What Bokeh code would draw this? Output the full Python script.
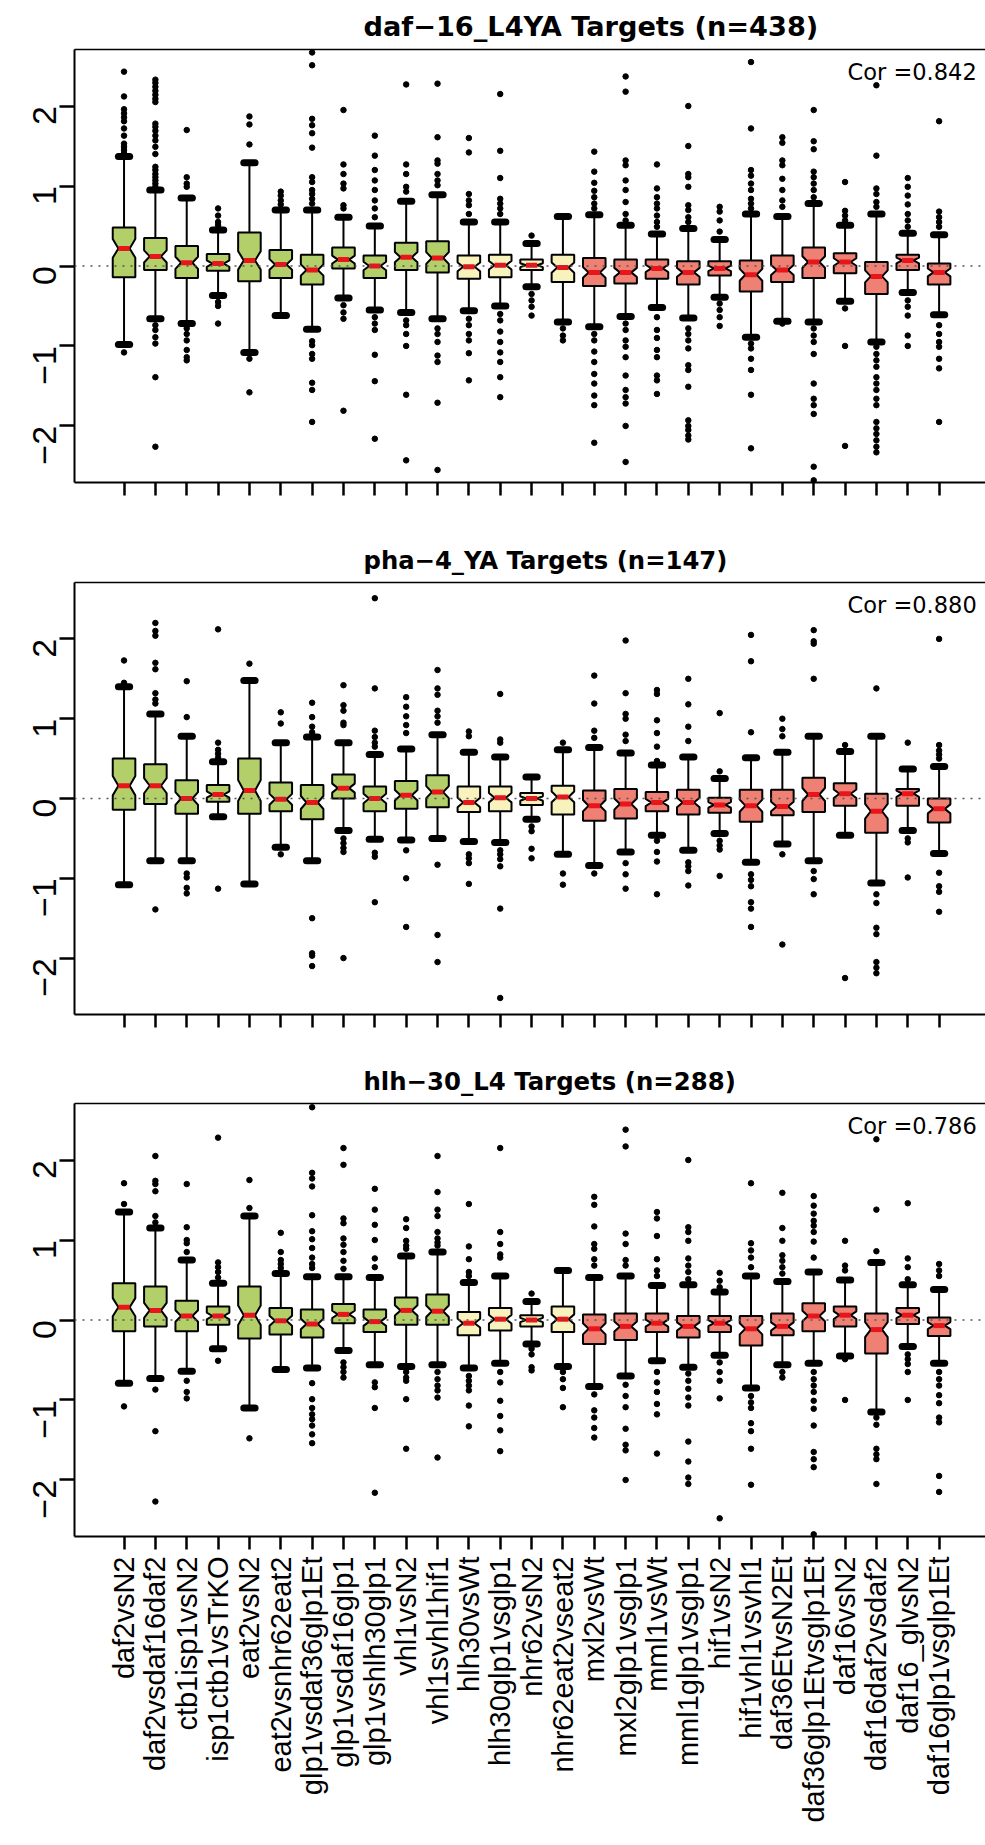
import math
from bokeh.plotting import figure
from bokeh.models import Range1d, FixedTicker, LinearAxis, Span, Label, Title
from bokeh.layouts import column
from bokeh.embed import file_html
from bokeh.resources import INLINE

# ---------------- data ----------------
labels = ["daf2vsN2", "daf2vsdaf16daf2", "ctb1isp1vsN2", "isp1ctb1vsTrKO", "eat2vsN2",
          "eat2vsnhr62eat2", "glp1vsdaf36glp1Et", "glp1vsdaf16glp1", "glp1vshlh30glp1",
          "vhl1vsN2", "vhl1svhl1hif1", "hlh30vsWt", "hlh30glp1vsglp1", "nhr62vsN2",
          "nhr62eat2vseat2", "mxl2vsWt", "mxl2glp1vsglp1", "mml1vsWt", "mml1glp1vsglp1",
          "hif1vsN2", "hif1vhl1vsvhl1", "daf36EtvsN2Et", "daf36glp1Etvsglp1Et", "daf16vsN2",
          "daf16daf2vsdaf2", "daf16_glvsN2", "daf16glp1vsglp1Et"]

groups = ["g", "g", "g", "g", "g", "g", "g", "g", "g", "g", "g",
          "y", "y", "y", "y",
          "r", "r", "r", "r", "r", "r", "r", "r", "r", "r", "r", "r"]

titles = ["daf\u221216_L4YA Targets (n=438)", "pha\u22124_YA Targets (n=147)",
          "hlh\u221230_L4 Targets (n=288)"]
cor_texts = ["Cor =0.842", "Cor =0.880", "Cor =0.786"]

# panel 1: daf-16_L4YA
p1_q3 = [0.48, 0.35, 0.25, 0.15, 0.42, 0.20, 0.14, 0.23, 0.13, 0.29, 0.31, 0.13, 0.14, 0.08,
         0.14, 0.10, 0.08, 0.08, 0.06, 0.06, 0.07, 0.13, 0.23, 0.16, 0.05, 0.14, 0.03]
p1_q1 = [-0.14, -0.05, -0.15, -0.06, -0.19, -0.15, -0.23, -0.03, -0.15, -0.05, -0.08, -0.16,
         -0.14, -0.05, -0.20, -0.25, -0.22, -0.16, -0.23, -0.12, -0.32, -0.20, -0.15, -0.09,
         -0.35, -0.05, -0.23]
p1_med = [0.22, 0.12, 0.04, 0.03, 0.07, 0.02, -0.05, 0.08, 0.00, 0.11, 0.10, -0.01, 0.01, 0.01,
          -0.02, -0.08, -0.08, -0.03, -0.08, -0.03, -0.11, -0.05, 0.05, 0.05, -0.13, 0.07, -0.08]
p1_whi = [1.37, 0.95, 0.85, 0.45, 1.29, 0.70, 0.70, 0.61, 0.50, 0.81, 0.89, 0.55, 0.55, 0.28,
          0.62, 0.64, 0.51, 0.40, 0.47, 0.33, 0.65, 0.62, 0.78, 0.51, 0.65, 0.41, 0.39]
p1_wlo = [-0.98, -0.66, -0.72, -0.37, -1.08, -0.62, -0.79, -0.40, -0.55, -0.58, -0.66, -0.56,
          -0.50, -0.26, -0.70, -0.76, -0.63, -0.52, -0.65, -0.39, -0.89, -0.69, -0.70, -0.44,
          -0.95, -0.33, -0.61]
p1_out = [
    [2.43, 2.12, 1.96, 1.91, 1.86, 1.81, 1.72, 1.63, 1.53, 1.49, 1.45, 1.41, -1.08],
    [2.33, 2.29, 2.24, 2.19, 2.14, 2.09, 2.05, 1.78, 1.74, 1.69, 1.63, 1.57, 1.49, 1.40, 1.24,
     1.20, 1.15, 1.11, 1.07, 1.03, 0.99, -0.74, -0.80, -0.89, -0.97, -1.39, -2.26],
    [1.70, 1.11, 1.03, 0.99, -0.78, -0.85, -0.93, -1.05, -1.14, -1.18],
    [0.72, 0.63, 0.55, 0.51, -0.45, -0.50, -0.72],
    [1.87, 1.77, 1.52, -1.16, -1.58],
    [0.93, 0.88, 0.82, 0.77],
    [2.67, 2.51, 1.84, 1.76, 1.66, 1.48, 1.11, 1.05, 0.95, 0.90, 0.84, 0.78, -0.94, -0.99, -1.10,
     -1.16, -1.46, -1.55, -1.95],
    [1.95, 1.27, 1.15, 1.03, 0.97, 0.76, 0.72, -0.49, -0.58, -0.66, -1.81],
    [1.63, 1.38, 1.20, 1.07, 0.95, 0.82, 0.72, 0.61, -0.64, -0.72, -0.80, -1.11, -1.44, -2.16],
    [2.27, 1.27, 1.15, 0.99, 0.93, -0.68, -0.74, -0.85, -1.00, -1.61, -2.43],
    [2.28, 1.61, 1.32, 1.28, 1.15, 1.07, 1.01, -0.78, -0.85, -0.95, -1.12, -1.20, -1.71, -2.55],
    [1.60, 1.42, 0.90, 0.82, 0.76, 0.65, -0.66, -0.74, -0.85, -0.93, -1.09, -1.43],
    [2.15, 1.44, 1.10, 0.84, 0.78, 0.72, 0.65, -0.60, -0.68, -0.82, -0.95, -1.08, -1.20, -1.39,
     -1.64],
    [0.38, -0.35, -0.43, -0.51, -0.62],
    [-0.78, -0.87, -0.93],
    [1.43, 1.18, 1.04, 0.94, 0.86, 0.78, 0.72, -0.85, -0.93, -1.07, -1.20, -1.35, -1.47, -1.62,
     -1.74, -2.21],
    [2.37, 2.18, 1.32, 1.26, 1.07, 0.95, 0.80, 0.65, 0.57, -0.72, -0.80, -0.93, -1.01, -1.14,
     -1.37, -1.55, -1.64, -1.72, -2.00, -2.45],
    [1.27, 0.97, 0.86, 0.78, 0.72, 0.63, 0.55, 0.49, -0.64, -0.80, -0.90, -1.05, -1.14, -1.37,
     -1.43, -1.60],
    [2.00, 1.50, 1.15, 1.11, 0.99, 0.76, 0.70, 0.61, 0.55, -0.78, -0.85, -0.93, -1.03, -1.24,
     -1.30, -1.51, -1.93, -2.00, -2.05, -2.12, -2.17],
    [0.74, 0.68, 0.57, 0.43, -0.47, -0.55, -0.64, -0.75],
    [2.55, 1.72, 1.20, 1.13, 1.03, 0.95, 0.84, 0.78, 0.72, -0.97, -1.03, -1.16, -1.30, -1.61,
     -2.28],
    [1.61, 1.54, 1.32, 1.26, 1.09, 0.95, 0.82, 0.74, -0.72],
    [1.95, 1.56, 1.46, 1.18, 1.11, 1.03, 0.95, 0.86, -0.78, -0.87, -0.95, -1.10, -1.47, -1.66,
     -1.74, -1.85, -2.51, -2.68],
    [1.05, 0.69, 0.63, 0.57, -0.53, -1.00, -2.25],
    [2.26, 1.38, 0.97, 0.90, 0.80, 0.74, -1.01, -1.10, -1.18, -1.26, -1.39, -1.47, -1.55, -1.66,
     -1.74, -1.95, -2.03, -2.10, -2.18, -2.26, -2.33],
    [1.10, 0.99, 0.88, 0.77, 0.65, 0.57, 0.49, -0.43, -0.51, -0.62, -0.87, -1.00],
    [1.81, 0.68, 0.61, 0.55, 0.49, -0.74, -0.85, -0.95, -1.01, -1.16, -1.28, -1.95],
]

# panel 2: pha-4_YA
p2_q3 = [0.50, 0.43, 0.23, 0.17, 0.50, 0.20, 0.17, 0.30, 0.15, 0.22, 0.29, 0.15, 0.15, 0.07,
         0.16, 0.10, 0.12, 0.08, 0.11, 0.01, 0.11, 0.11, 0.26, 0.19, 0.06, 0.12, 0.00]
p2_q1 = [-0.14, -0.07, -0.19, -0.04, -0.19, -0.16, -0.26, 0.00, -0.16, -0.13, -0.11, -0.17,
         -0.16, -0.08, -0.20, -0.28, -0.25, -0.16, -0.20, -0.18, -0.29, -0.21, -0.17, -0.09,
         -0.43, -0.09, -0.30]
p2_med = [0.16, 0.16, 0.00, 0.05, 0.10, -0.01, -0.05, 0.13, 0.00, 0.04, 0.08, -0.05, 0.01, 0.00,
          0.02, -0.09, -0.07, -0.05, -0.05, -0.08, -0.09, -0.10, 0.05, 0.06, -0.16, 0.06, -0.13]
p2_whi = [1.40, 1.06, 0.78, 0.46, 1.48, 0.70, 0.77, 0.70, 0.55, 0.62, 0.80, 0.58, 0.52, 0.27,
          0.61, 0.64, 0.57, 0.42, 0.52, 0.25, 0.51, 0.58, 0.78, 0.59, 0.78, 0.37, 0.40]
p2_wlo = [-1.08, -0.78, -0.78, -0.23, -1.07, -0.61, -0.78, -0.40, -0.51, -0.52, -0.50, -0.54,
          -0.55, -0.26, -0.70, -0.84, -0.67, -0.46, -0.65, -0.44, -0.80, -0.57, -0.78, -0.46,
          -1.06, -0.40, -0.69]
p2_out = [
    [1.73, 1.45],
    [2.20, 2.10, 2.04, 1.70, 1.62, 1.32, 1.24, 1.19, -1.39],
    [1.47, 1.02, -0.94, -0.99, -1.12, -1.19],
    [2.12, 0.70, 0.61, 0.56, 0.51, -1.13],
    [1.69],
    [1.08, 0.94, -0.70],
    [1.20, 1.02, 0.90, 0.83, -1.50, -1.94, -1.97, -2.10],
    [1.42, 1.17, 1.10, 0.95, 0.92, -0.50, -0.56, -0.62, -0.67, -2.00],
    [2.51, 1.38, 0.85, 0.77, 0.70, 0.65, -0.68, -0.73, -1.30],
    [1.27, 1.15, 1.03, 0.92, 0.82, -0.65, -1.00, -1.61],
    [1.61, 1.38, 1.30, 1.10, 1.03, 0.95, -0.83, -1.71, -2.05],
    [0.84, 0.78, -0.70, -0.75, -0.81, -1.07],
    [1.31, 0.74, 0.70, -0.65, -0.70, -0.76, -0.85, -1.38, -2.50],
    [-0.35, -0.41, -0.63, -0.75],
    [0.70, -0.94, -1.08],
    [1.54, 1.19, 0.85, 0.76, -0.94],
    [1.98, 1.32, 1.06, 1.00, 0.80, 0.72, -0.81, -0.95, -1.13],
    [1.36, 1.31, 0.98, 0.82, 0.65, 0.47, -0.53, -0.67, -0.79, -1.20],
    [1.50, 1.18, 0.90, 0.72, -0.80, -0.85, -0.91, -1.09],
    [1.07, 0.34, -0.53, -0.59, -0.64, -0.97],
    [2.05, 1.72, 0.83, -0.95, -1.02, -1.10, -1.30, -1.38, -1.61],
    [1.00, 0.87, 0.78, -0.70, -1.83],
    [2.11, 1.97, 1.94, 1.50, -0.91, -1.01, -1.20],
    [0.67, -2.25],
    [1.38, -1.20, -1.31, -1.62, -1.70, -2.05, -2.12, -2.19],
    [0.70, -0.50, -0.55, -0.99],
    [2.00, 0.67, 0.60, 0.55, 0.50, -0.93, -1.10, -1.17, -1.42],
]

# panel 3: hlh-30_L4
p3_q3 = [0.46, 0.42, 0.24, 0.17, 0.42, 0.15, 0.13, 0.20, 0.13, 0.28, 0.32, 0.10, 0.15, 0.06,
         0.17, 0.07, 0.08, 0.08, 0.05, 0.05, 0.05, 0.08, 0.21, 0.17, 0.08, 0.15, 0.03]
p3_q1 = [-0.14, -0.08, -0.14, -0.06, -0.23, -0.18, -0.22, -0.04, -0.15, -0.06, -0.06, -0.19,
         -0.13, -0.08, -0.15, -0.30, -0.25, -0.15, -0.22, -0.15, -0.32, -0.19, -0.14, -0.08,
         -0.42, -0.05, -0.20]
p3_med = [0.16, 0.12, 0.05, 0.05, 0.06, -0.01, -0.05, 0.07, -0.02, 0.12, 0.11, -0.04, 0.01, 0.00,
          0.01, -0.11, -0.08, -0.04, -0.08, -0.04, -0.11, -0.08, 0.05, 0.06, -0.12, 0.06, -0.07]
p3_whi = [1.35, 1.15, 0.75, 0.46, 1.30, 0.58, 0.54, 0.54, 0.53, 0.80, 0.85, 0.47, 0.55, 0.23,
          0.62, 0.53, 0.55, 0.43, 0.44, 0.35, 0.55, 0.48, 0.60, 0.50, 0.72, 0.44, 0.38]
p3_wlo = [-0.79, -0.73, -0.64, -0.36, -1.10, -0.62, -0.60, -0.38, -0.56, -0.58, -0.56, -0.60,
          -0.54, -0.30, -0.58, -0.83, -0.70, -0.51, -0.59, -0.44, -0.85, -0.56, -0.54, -0.45,
          -1.15, -0.33, -0.54]
p3_out = [
    [1.71, 1.45, -1.08],
    [2.05, 1.74, 1.70, 1.61, 1.30, 1.22, -0.87, -1.39, -2.27],
    [1.70, 1.16, 1.00, 0.96, 0.85, -0.76, -0.90, -0.98],
    [2.28, 0.72, 0.66, 0.60, 0.53, -0.51],
    [1.75, 1.40, -1.48],
    [1.09, 0.85, 0.75, 0.70, 0.65],
    [2.66, 1.84, 1.77, 1.67, 1.31, 1.11, 1.01, 0.90, 0.78, 0.70, 0.65, -0.79, -0.99, -1.10,
     -1.18, -1.24, -1.32, -1.43, -1.54],
    [2.15, 1.94, 1.27, 1.21, 1.02, 0.94, 0.85, 0.74, 0.64, -0.53, -0.59, -0.65, -0.72],
    [1.64, 1.38, 1.19, 1.00, 0.77, 0.66, -0.78, -0.84, -1.10, -2.16],
    [1.26, 1.15, 0.99, 0.93, 0.89, -0.65, -0.72, -0.76, -0.99, -1.61],
    [2.05, 1.60, 1.38, 1.30, 1.10, 1.02, 0.97, 0.93, -0.65, -0.74, -0.82, -0.88, -0.97, -1.72],
    [1.45, 0.92, 0.76, 0.60, 0.55, -0.70, -0.76, -0.82, -0.88, -1.07, -1.33],
    [2.15, 1.10, 0.95, 0.82, 0.78, -0.65, -0.78, -1.01, -1.20, -1.38, -1.64],
    [0.33, -0.36, -0.43, -0.59, -0.63],
    [-0.65, -0.74, -0.85, -1.09],
    [1.54, 1.44, 1.17, 0.95, 0.89, 0.76, 0.68, -0.93, -1.13, -1.22, -1.35, -1.47],
    [2.38, 2.17, 1.08, 0.95, 0.75, 0.68, -0.81, -0.95, -1.09, -1.36, -1.56, -1.63, -2.00],
    [1.35, 1.27, 1.05, 0.76, 0.62, 0.55, -0.65, -0.78, -0.90, -1.05, -1.18, -1.67],
    [2.00, 1.16, 1.10, 0.99, 0.77, 0.68, 0.60, 0.51, -0.67, -0.76, -0.86, -0.97, -1.07, -1.52,
     -1.77, -1.97, -2.05],
    [0.59, 0.49, 0.41, -0.53, -0.65, -0.76, -0.98, -2.48],
    [1.71, 0.96, 0.87, 0.78, 0.66, -0.95, -1.03, -1.10, -1.29, -1.39, -1.61, -2.06],
    [1.59, 1.15, 0.99, 0.81, 0.74, 0.66, 0.58, -0.65, -0.72],
    [1.55, 1.43, 1.33, 1.24, 1.18, 1.10, 0.98, 0.78, -0.65, -0.74, -0.82, -0.90, -1.01, -1.11,
     -1.32, -1.65, -1.74, -1.84, -2.68],
    [0.99, 0.68, 0.62, -0.49, -1.00],
    [2.26, 1.38, 0.86, -1.22, -1.31, -1.61, -1.68, -1.74, -2.05],
    [1.46, 0.77, 0.66, 0.51, -0.43, -0.49, -0.55, -0.65, -1.00],
    [0.70, 0.62, 0.55, -0.65, -0.74, -0.82, -0.94, -1.04, -1.22, -1.28, -1.95, -2.15],
]

# ---------------- style ----------------
FILL = {"g": "#b3cf6a", "y": "#f8f2bc", "r": "#ef8074"}
MEDIAN_COLOR = "#e8161b"
BOX_HALF = 0.36
NOTCH_N = 70
STAPLE_HALF = 0.18
X_RANGE = (-0.58, 28.48)
Y_RANGE = (-2.707, 2.707)
COR_POS = (28.2, 2.42)
TITLE_SIZES = ["27.2px", "24.3px", "24.4px"]
FIG_H = [533, 521, 791]
BORDER_TOP = [49, 49, 49]
BORDER_BOTTOM = [51, 40, 309]


def make_panel(k, q1, med, q3, wlo, whi, outs, show_labels):
    p = figure(width=985, height=FIG_H[k], x_range=Range1d(*X_RANGE), y_range=Range1d(*Y_RANGE),
               output_backend="svg", toolbar_location=None,
               min_border_left=74, min_border_right=0,
               min_border_top=BORDER_TOP[k], min_border_bottom=BORDER_BOTTOM[k])
    p.outline_line_color = None
    p.grid.visible = False
    p.background_fill_color = "white"
    p.border_fill_color = "white"

    pos = list(range(1, len(labels) + 1))
    fills = [FILL[g] for g in groups]

    # whiskers
    p.segment(x0=pos, y0=q3, x1=pos, y1=whi, line_color="black", line_width=2)
    p.segment(x0=pos, y0=q1, x1=pos, y1=wlo, line_color="black", line_width=2)
    # staples
    sx0 = [x - STAPLE_HALF for x in pos]
    sx1 = [x + STAPLE_HALF for x in pos]
    p.segment(x0=sx0, y0=whi, x1=sx1, y1=whi, line_color="black", line_width=7, line_cap="round")
    p.segment(x0=sx0, y0=wlo, x1=sx1, y1=wlo, line_color="black", line_width=7, line_cap="round")

    # notched boxes
    xs, ys = [], []
    for i, x in enumerate(pos):
        n = 1.58 * (q3[i] - q1[i]) / math.sqrt(NOTCH_N)
        w = BOX_HALF
        xs.append([x - w, x + w, x + w, x + w / 2, x + w, x + w, x - w, x - w, x - w / 2, x - w])
        ys.append([q1[i], q1[i], med[i] - n, med[i], med[i] + n, q3[i], q3[i], med[i] + n, med[i],
                   med[i] - n])
    p.patches(xs, ys, fill_color=fills, line_color="black", line_width=2)

    # medians
    p.segment(x0=[x - BOX_HALF / 2 for x in pos], y0=med, x1=[x + BOX_HALF / 2 for x in pos],
              y1=med, line_color=MEDIAN_COLOR, line_width=5)

    # outliers
    ox, oy = [], []
    for i, vals in enumerate(outs):
        for v in vals:
            ox.append(pos[i])
            oy.append(v)
    p.scatter(ox, oy, size=5.5, fill_color="black", line_color="black")

    p.add_layout(Span(location=0, dimension="width", line_color="#555555", line_width=1.5,
                      line_dash="2 6"))

    # axes
    xa = p.xaxis[0]
    xa.ticker = FixedTicker(ticks=pos)
    xa.major_tick_out = 13
    xa.major_tick_in = 0
    xa.minor_tick_line_color = None
    xa.axis_line_width = 2
    xa.major_tick_line_width = 2.5
    if show_labels:
        xa.major_label_overrides = {x: labels[i] for i, x in enumerate(pos)}
        xa.major_label_orientation = math.pi / 2
        xa.major_label_text_font = "Liberation Sans"
        xa.major_label_text_font_size = "29px"
        xa.major_label_text_color = "black"
        xa.major_label_standoff = 7
    else:
        xa.major_label_overrides = {x: "" for x in pos}

    ya = p.yaxis[0]
    ya.ticker = FixedTicker(ticks=[-2, -1, 0, 1, 2])
    ya.major_label_overrides = {-2: "\u22122", -1: "\u22121", 0: "0", 1: "1", 2: "2"}
    ya.major_label_orientation = math.pi / 2
    ya.major_tick_out = 15
    ya.major_tick_in = 0
    ya.minor_tick_line_color = None
    ya.axis_line_width = 2
    ya.major_tick_line_width = 2.5
    ya.major_label_text_font = "Liberation Sans"
    ya.major_label_text_font_size = "34px"
    ya.major_label_text_color = "black"
    ya.major_label_standoff = 15

    top = LinearAxis(ticker=FixedTicker(ticks=[]), major_tick_out=0, major_tick_in=0,
                     major_label_standoff=0, axis_line_width=1.5, minor_tick_line_color=None)
    p.add_layout(top, "above")

    p.title = Title(text=titles[k], align="left", offset=289, text_font="DejaVu Sans",
                    text_font_size=TITLE_SIZES[k], text_font_style="bold", standoff=16,
                    text_color="black")

    p.add_layout(Label(x=COR_POS[0], y=COR_POS[1], text=cor_texts[k], text_align="right",
                       text_baseline="middle", text_font="DejaVu Sans",
                       text_font_size="22.5px", text_color="black"))
    return p


p1 = make_panel(0, p1_q1, p1_med, p1_q3, p1_wlo, p1_whi, p1_out, False)
p2 = make_panel(1, p2_q1, p2_med, p2_q3, p2_wlo, p2_whi, p2_out, False)
p3 = make_panel(2, p3_q1, p3_med, p3_q3, p3_wlo, p3_whi, p3_out, True)

layout = column(p1, p2, p3, spacing=0)
open("out.html", "w").write(file_html(layout, INLINE))
